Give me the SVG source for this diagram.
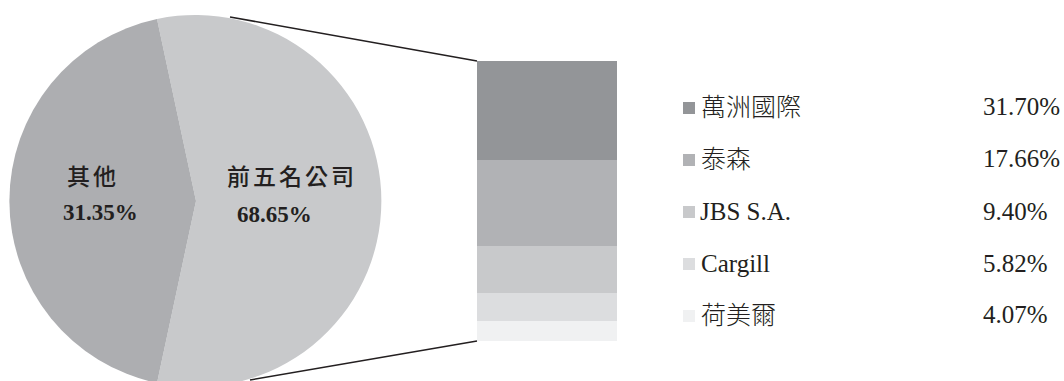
<svg xmlns="http://www.w3.org/2000/svg" width="1064" height="381" viewBox="0 0 1064 381">
<style>
.lbl{font-family:"Noto Sans CJK TC","Noto Sans CJK SC",sans-serif;font-size:23px;fill:#231F20;letter-spacing:3px;font-weight:500}
.pct{font-family:"Liberation Serif",serif;font-size:23px;font-weight:bold;fill:#231F20}
.leg{font-family:"Liberation Serif","Noto Sans CJK TC",serif;font-size:25px;fill:#231F20}
.cjk{font-family:"Noto Sans CJK TC",sans-serif;font-size:25px;fill:#231F20;font-weight:300}
.conn{stroke:#231F20;stroke-width:1.6;fill:none}
</style>
<rect width="1064" height="381" fill="#ffffff"/>
<g id="pie">
<g id="slice-top5">
<path d="M196,201 L157,19 A186,186 0 1 1 157,383 Z" fill="#C8C9CB"/>
</g>
<g id="slice-other">
<path d="M196,201 L157,383 A186,186 0 0 1 157,19 Z" fill="#ADAEB1"/>
</g>
<text class="lbl" x="67" y="185">其他</text>
<text class="pct" x="63" y="220">31.35%</text>
<text class="lbl" x="227" y="185">前五名公司</text>
<text class="pct" x="237" y="222">68.65%</text>
</g>
<g id="connectors">
<line class="conn" x1="230" y1="17" x2="477" y2="61"/>
<line class="conn" x1="250" y1="380" x2="477" y2="341"/>
</g>
<g id="bar">
<rect x="477" y="61" width="140" height="99" fill="#939598"/>
<rect x="477" y="160" width="140" height="86" fill="#B1B2B5"/>
<rect x="477" y="246" width="140" height="47" fill="#C8C9CB"/>
<rect x="477" y="293" width="140" height="28" fill="#DCDDDF"/>
<rect x="477" y="321" width="140" height="20" fill="#F0F1F2"/>
</g>
<g id="legend">
<g id="leg1"><rect x="683" y="102" width="12" height="12" fill="#939598"/><text class="cjk" x="701" y="116">萬洲國際</text><text class="leg" x="983" y="115">31.70%</text></g>
<g id="leg2"><rect x="683" y="154" width="12" height="12" fill="#B1B2B5"/><text class="cjk" x="701" y="168">泰森</text><text class="leg" x="983" y="167">17.66%</text></g>
<g id="leg3"><rect x="683" y="206" width="12" height="12" fill="#C8C9CB"/><text class="leg" x="700" y="220">JBS S.A.</text><text class="leg" x="983" y="220">9.40%</text></g>
<g id="leg4"><rect x="683" y="258" width="12" height="12" fill="#DCDDDF"/><text class="leg" x="701" y="272">Cargill</text><text class="leg" x="983" y="272">5.82%</text></g>
<g id="leg5"><rect x="683" y="310" width="12" height="12" fill="#F0F1F2"/><text class="cjk" x="701" y="324">荷美爾</text><text class="leg" x="983" y="323">4.07%</text></g>
</g>
</svg>
